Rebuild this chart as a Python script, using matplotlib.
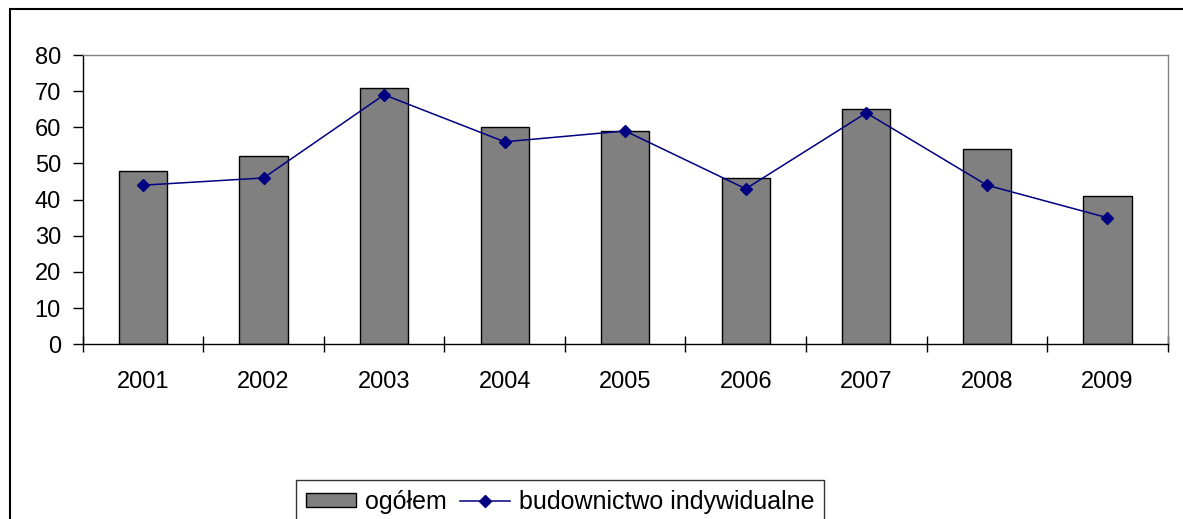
import matplotlib
matplotlib.use("Agg")
import matplotlib.pyplot as plt
from matplotlib.patches import Rectangle
import numpy as np

years = ["2001", "2002", "2003", "2004", "2005", "2006", "2007", "2008", "2009"]
ogolem = [48, 52, 71, 60, 59, 46, 65, 54, 41]
indywidualne = [44, 46, 69, 56, 59, 43, 64, 44, 35]
y_ticks = [0, 10, 20, 30, 40, 50, 60, 70, 80]

plt.rcParams['font.family'] = ['Liberation Sans', 'DejaVu Sans']

W, H = 1183, 519
fig = plt.figure(figsize=(W / 100, H / 100), dpi=100)

# outer chart frame (extends beyond the cropped image on right/bottom)
fig.patches.append(Rectangle((10 / W, -0.1), 1.2, 1 - 9 / H + 0.1, transform=fig.transFigure,
                             fill=False, edgecolor='black', linewidth=1.5, zorder=0))

left, right, top, bottom = 82.7, 1167.7, 55, 344.3
ax = fig.add_axes([left / W, 1 - bottom / H, (right - left) / W, (bottom - top) / H])

x = np.arange(len(years))
bars = ax.bar(x, ogolem, width=0.4, color='#808080', edgecolor='black', linewidth=1.0, zorder=2)
line, = ax.plot(x, indywidualne, color='#000080', linewidth=1.1, marker='D', markersize=6.2,
                markerfacecolor='#000080', markeredgecolor='#000080', zorder=3)

ax.set_xlim(-0.5, len(years) - 0.5)
ax.set_ylim(0, 80)
ax.set_yticks(y_ticks)
ax.set_yticklabels([str(v) for v in y_ticks])
ax.tick_params(axis='y', direction='out', length=7.2, width=1.0, pad=8.5, labelsize=17, colors='black')

ax.set_xticks(np.arange(-0.5, len(years), 1.0))
ax.set_xticklabels([])
ax.tick_params(axis='x', which='major', direction='inout', length=11, width=1.0)
ax.set_xticks(x, minor=True)
ax.set_xticklabels(years, minor=True)
ax.tick_params(axis='x', which='minor', length=0, pad=19, labelsize=17)

for s in ('left', 'bottom'):
    ax.spines[s].set_color('black')
    ax.spines[s].set_linewidth(1.0)
for s in ('top', 'right'):
    ax.spines[s].set_color('#808080')
    ax.spines[s].set_linewidth(1.0)

leg = fig.legend([bars, line], ['ogółem', 'budownictwo indywidualne'],
                 loc='upper left', bbox_to_anchor=(296 / W, 1 - 480 / H),
                 ncol=2, fontsize=18, frameon=True, fancybox=False, shadow=False,
                 borderaxespad=0, handlelength=2.0, handleheight=0.52, handletextpad=0.36,
                 columnspacing=0.52, borderpad=0.4)
leg.get_frame().set_edgecolor('black')
leg.get_frame().set_linewidth(1.0)

fig.savefig('out.png', dpi=100)
